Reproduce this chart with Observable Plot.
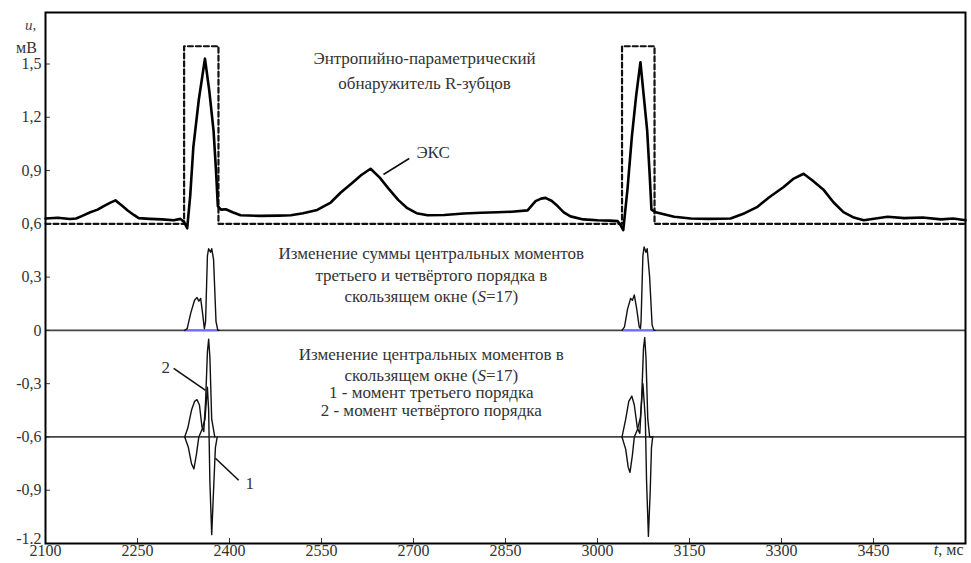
<!DOCTYPE html>
<html><head><meta charset="utf-8">
<script src="https://cdn.jsdelivr.net/npm/d3@7"></script>
<script src="https://cdn.jsdelivr.net/npm/@observablehq/plot@0.6"></script>
<style>body{margin:0;background:#fff} svg{display:block} svg text{font-family:"Liberation Serif","Times New Roman",serif}</style>
</head><body><div id="chart"></div>
<script>
// ECG signal (ЭКС), t in ms, u in mV
const ecgT = [2100,2120,2140,2150,2160,2173,2185,2195,2205,2214,2224,2234,2244,2252,2270,2290,2309,2320,2326,2331,2336,2341,2350,2360,2367,2374,2378,2381,2386,2394,2405,2418,2450,2480,2500,2520,2543,2565,2581,2600,2615,2630,2645,2659,2675,2690,2705,2723,2750,2782,2810,2837,2860,2886,2899,2908,2915,2925,2935,2945,2956,2977,3000,3020,3033,3038,3042,3049,3056,3063,3070,3076,3081,3085,3088,3095,3103,3125,3152,3180,3217,3240,3260,3280,3303,3320,3336,3350,3369,3385,3401,3418,3434,3473,3500,3530,3560,3580,3600];
const ecgV = [0.630,0.634,0.627,0.630,0.645,0.665,0.680,0.700,0.718,0.732,0.705,0.675,0.650,0.632,0.628,0.625,0.620,0.628,0.610,0.575,0.760,1.030,1.300,1.530,1.350,1.125,0.900,0.700,0.680,0.682,0.665,0.648,0.645,0.646,0.648,0.660,0.678,0.720,0.775,0.830,0.875,0.910,0.860,0.800,0.735,0.688,0.660,0.648,0.650,0.658,0.662,0.665,0.668,0.676,0.728,0.742,0.746,0.730,0.700,0.665,0.642,0.625,0.620,0.618,0.615,0.590,0.565,0.800,1.090,1.320,1.510,1.300,1.125,0.880,0.680,0.665,0.658,0.640,0.630,0.628,0.630,0.660,0.694,0.750,0.806,0.855,0.882,0.845,0.790,0.720,0.666,0.635,0.620,0.640,0.632,0.636,0.625,0.630,0.620];

// Entropy-parametric R-wave detector output (dashed)
const detT = [2100,2326,2326,2382,2382,3040,3040,3093,3093,3600];
const detV = [0.6,0.6,1.6,1.6,0.6,0.6,1.6,1.6,0.6,0.6];

// Sum of 3rd and 4th order central moments (S=17)
const sumBeat = ["a","a","a","a","a","a","a","a","a","a","a","a","a","a","a","a","a","a","b","b","b","b","b","b","b","b","b","b","b","b","b","b","b","b","b","b"];
const sumT = [2327,2331,2337,2343,2347,2350,2353,2356,2359,2361,2364,2366,2369,2371,2374,2378,2381,2383,3040,3044,3049,3054,3057,3060,3064,3068,3070,3071,3074,3076,3079,3081,3085,3089,3092,3094];
const sumV = [0,0.01,0.10,0.17,0.185,0.165,0.18,0.10,0.01,0.05,0.42,0.46,0.44,0.46,0.40,0.05,0,0,0,0.02,0.12,0.18,0.17,0.20,0.12,0.02,0.01,0.05,0.42,0.47,0.44,0.46,0.30,0.03,0,0];
// blue base segments under the humps
const blueT1 = [2329,2381];
const blueT2 = [3042,3091];

// 3rd order central moment (curve 1), offset to -0.6
const m3Beat = ["a","a","a","a","a","a","a","a","a","a","a","a","a","a","a","b","b","b","b","b","b","b","b","b","b","b","b","b","b","b"];
const m3T = [2327,2333,2338,2342,2346,2350,2355,2360,2364,2366,2368,2371,2374,2377,2380,3040,3046,3050,3053,3057,3060,3065,3070,3074,3078,3080,3083,3086,3088,3090];
const m3V = [-0.6,-0.66,-0.75,-0.78,-0.70,-0.60,-0.56,-0.50,-0.32,-0.45,-0.85,-1.15,-0.90,-0.66,-0.60,-0.6,-0.67,-0.77,-0.80,-0.70,-0.60,-0.56,-0.49,-0.30,-0.50,-0.85,-1.16,-0.90,-0.66,-0.60];
// 4th order central moment (curve 2)
const m4Beat = ["a","a","a","a","a","a","a","a","a","a","a","a","a","a","b","b","b","b","b","b","b","b","b","b","b","b","b","b"];
const m4T = [2327,2332,2338,2343,2347,2351,2355,2358,2361,2364,2366,2368,2371,2376,3040,3046,3051,3056,3060,3065,3069,3072,3075,3077,3079,3082,3085,3089];
const m4V = [-0.6,-0.55,-0.45,-0.40,-0.39,-0.42,-0.54,-0.57,-0.40,-0.12,-0.05,-0.15,-0.50,-0.60,-0.6,-0.50,-0.40,-0.37,-0.42,-0.55,-0.58,-0.38,-0.10,-0.04,-0.15,-0.50,-0.60,-0.60];

// axis ticks
const xTicks = [2100,2250,2400,2550,2700,2850,3000,3150,3300,3450];
const yTicks = [-0.9,-0.6,-0.3,0,0.3,0.6,0.9,1.2,1.5];
const yTickLabels = ["-0,9","-0,6","-0,3","0","0,3","0,6","0,9","1,2","1,5"];
const yTickBottom = [-1.2];
const yTickBottomLabel = ["-1.2"];

// annotation texts
const noteLabels = ["Энтропийно-параметрический","обнаружитель R-зубцов",
  "Изменение суммы центральных моментов","третьего и четвёртого порядка в","скользящем окне (S=17)",
  "Изменение центральных моментов в","скользящем окне (S=17)","1 - момент третьего порядка","2 - момент четвёртого порядка"];
const noteT = [2718,2718,2729,2729,2729,2729,2729,2729,2729];
const noteV = [1.531,1.390,0.433,0.310,0.191,-0.135,-0.253,-0.349,-0.450];

const calloutLabels = ["ЭКС","2","1"];
const calloutT = [2732,2296,2433];
const calloutV = [1.002,-0.208,-0.861];
const leaderT1 = [2651,2309,2415];
const leaderV1 = [0.878,-0.214,-0.844];
const leaderT2 = [2693,2361,2377];
const leaderV2 = [0.968,-0.338,-0.72];

const ecg = ecgT.map((t,i)=>({t, v: ecgV[i]}));
const det = detT.map((t,i)=>({t, v: detV[i]}));
const sum = sumT.map((t,i)=>({t, v: sumV[i], z: sumBeat[i]}));
const m3 = m3T.map((t,i)=>({t, v: m3V[i], z: m3Beat[i]}));
const m4 = m4T.map((t,i)=>({t, v: m4V[i], z: m4Beat[i]}));
const blue = [...blueT1.map(t=>({t, v:0, z:"a"})), ...blueT2.map(t=>({t, v:0, z:"b"}))];
const notes = noteLabels.map((label,i)=>({label, t: noteT[i], v: noteV[i]}));
const callouts = calloutLabels.map((label,i)=>({label, t: calloutT[i], v: calloutV[i]}));
const leaders = leaderT1.map((t,i)=>({t1: t, v1: leaderV1[i], t2: leaderT2[i], v2: leaderV2[i]}));
const yLab = new Map([...yTicks.map((d,i)=>[d, yTickLabels[i]]), ...yTickBottom.map((d,i)=>[d, yTickBottomLabel[i]])]);

const serif = "Liberation Serif";
const chart = Plot.plot({
  width: 971, height: 563,
  marginLeft: 45, marginRight: 6, marginTop: 12, marginBottom: 20,
  style: {fontFamily: serif, fontSize: "16px", background: "#fff", color: "#333"},
  x: {domain: [2100, 3600]},
  y: {domain: [-1.2, 1.79]},
  marks: [
    Plot.ruleY([0], {stroke: "#444", strokeWidth: 1.8}),
    Plot.ruleY([-0.6], {stroke: "#444", strokeWidth: 1.8}),
    Plot.line(blue, {x: "t", y: "v", z: "z", stroke: "#6b6bff", strokeWidth: 1.8}),
    Plot.line(sum, {x: "t", y: "v", z: "z", stroke: "#111", strokeWidth: 1.4}),
    Plot.line(m3, {x: "t", y: "v", z: "z", stroke: "#111", strokeWidth: 1.4}),
    Plot.line(m4, {x: "t", y: "v", z: "z", stroke: "#111", strokeWidth: 1.4}),
    Plot.line(det, {x: "t", y: "v", stroke: "#111", strokeWidth: 2.2, strokeDasharray: "5,3"}),
    Plot.line(ecg, {x: "t", y: "v", stroke: "#000", strokeWidth: 2.6, strokeLinejoin: "round"}),
    Plot.ruleY([...yTickBottom, ...yTicks], {x1: 2100, x2: 2108, stroke: "#333", strokeWidth: 1}),
    Plot.ruleX(xTicks, {y1: -1.2, y2: -1.172, stroke: "#333", strokeWidth: 1}),
    Plot.frame({stroke: "#000", strokeWidth: 2}),
    Plot.axisY(yTicks, {tickSize: 0, tickPadding: 4, tickFormat: d => yLab.get(d), fontSize: 16, fontFamily: serif, fill: "#333", label: null}),
    Plot.axisY(yTickBottom, {tickSize: 0, tickPadding: 4, tickFormat: d => yLab.get(d), fontSize: 16, fontFamily: serif, fill: "#333", label: null, dy: -5}),
    Plot.axisX(xTicks, {tickSize: 0, tickPadding: 1, tickFormat: d => String(d), fontSize: 16, fontFamily: serif, fill: "#333", label: null}),
    Plot.text(["u,"], {frameAnchor: "top-left", dx: -15, dy: 7, fontStyle: "italic", fontSize: 15, fontFamily: serif, fill: "#444", textAnchor: "middle"}),
    Plot.text(["мВ"], {frameAnchor: "top-left", dx: -19, dy: 29, fontSize: 16, fontFamily: serif, fill: "#333", textAnchor: "middle"}),
    Plot.text(["t, мс"], {frameAnchor: "bottom-right", dx: -2, dy: 11, fontSize: 16, fontFamily: serif, fill: "#333", textAnchor: "end"}),
    Plot.link(leaders, {x1: "t1", y1: "v1", x2: "t2", y2: "v2", stroke: "#111", strokeWidth: 1.6}),
    Plot.text(notes, {x: "t", y: "v", text: "label", fontSize: 17, fontFamily: serif, fill: "#333", textAnchor: "middle"}),
    Plot.text(callouts, {x: "t", y: "v", text: "label", fontSize: 17, fontFamily: serif, fill: "#333", textAnchor: "middle",
      fontStyle: d => d.label === "ЭКС" ? "normal" : "italic"})
  ]
});
chart.querySelectorAll("text").forEach(el => {
  const s = el.textContent;
  if (s.includes("(S=17)")) el.innerHTML = s.replace("(S=17)", '(<tspan font-style="italic">S</tspan>=17)');
  else if (s === "t, мс") el.innerHTML = '<tspan font-style="italic">t</tspan>, мс';
});
document.getElementById("chart").appendChild(chart);
</script>
</body></html>
